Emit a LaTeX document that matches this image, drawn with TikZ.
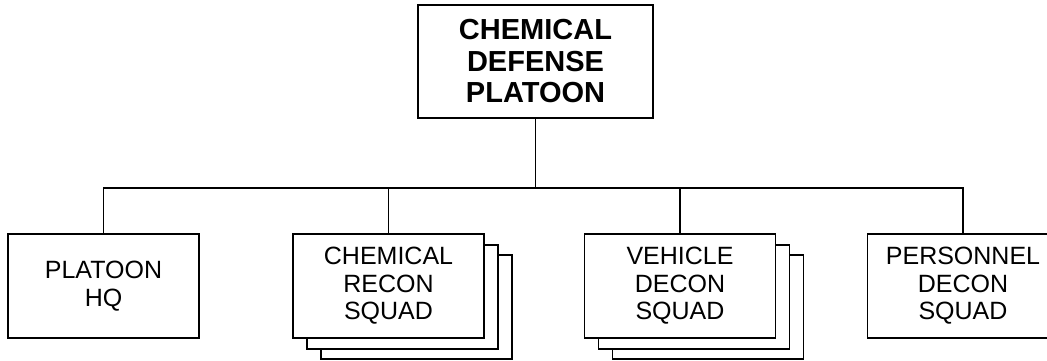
\documentclass[tikz,border=0pt]{standalone}
\usepackage{fontspec}
\setmainfont{Liberation Sans}
\begin{document}
\begin{tikzpicture}[x=1pt,y=-1pt,line width=1.6pt,
  unitbox/.style={draw,fill=white,minimum width=191pt,minimum height=104pt,align=center,inner sep=0pt,
    font=\fontsize{25}{27.5}\selectfont},
  topbox/.style={draw,fill=white,minimum width=235pt,minimum height=113pt,align=center,inner sep=0pt,
    font=\bfseries\fontsize{29}{31.5}\selectfont},
  backbox/.style={draw,fill=white,minimum width=191pt,minimum height=104pt,inner sep=0pt}]
\useasboundingbox (0,0) rectangle (1047,360);
\clip (0,0) rectangle (1047,360);
\fill[white] (0,0) rectangle (1047,360);
% top
\node[topbox] (top) at (535.5,61.5) {CHEMICAL\\DEFENSE\\PLATOON};
% children
\node[unitbox] (hq) at (103.5,286) {PLATOON\\HQ};
\node[backbox] (reconC) at (416.5,307) {};
\node[backbox] (reconB) at (402.5,297) {};
\node[unitbox] (recon) at (388.5,286) {CHEMICAL\\RECON\\SQUAD};
\node[backbox] (vehC) at (708,307) {};
\node[backbox] (vehB) at (694,297) {};
\node[unitbox] (veh) at (680,286) {VEHICLE\\DECON\\SQUAD};
\node[unitbox] (pers) at (963,286) {PERSONNEL\\DECON\\SQUAD};
% connectors
\coordinate (bus) at (535.5,188);
\draw (top.south) -- (bus);
\draw (hq.north) |- (bus) -| (pers.north);
\draw (recon.north) -- (recon.north |- bus);
\draw (veh.north) -- (veh.north |- bus);
\end{tikzpicture}
\end{document}
